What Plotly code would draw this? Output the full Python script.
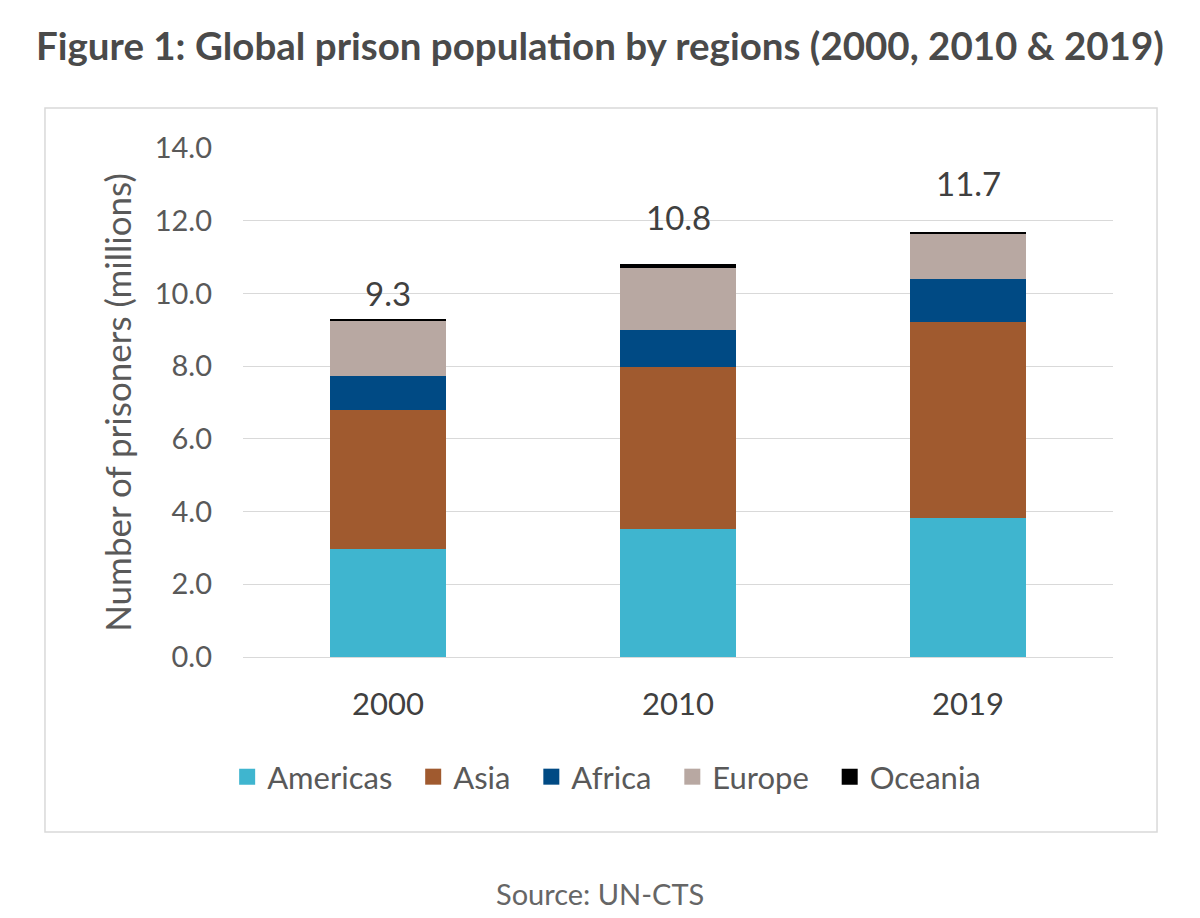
import plotly.graph_objects as go

years = ["2000", "2010", "2019"]
americas = [2.97, 3.52, 3.82]
asia = [3.82, 4.46, 5.39]
africa = [0.94, 1.01, 1.19]
europe = [1.50, 1.71, 1.23]
oceania = [0.07, 0.10, 0.07]
totals = [9.3, 10.8, 11.7]

series = [
    ("Americas", americas, "#3fb5cf"),
    ("Asia", asia, "#a05a2f"),
    ("Africa", africa, "#004a84"),
    ("Europe", europe, "#b8a8a2"),
    ("Oceania", oceania, "#000000"),
]

# pixel lift of each total label above its bar (style, not data)
label_lift = [4, 25, 27]

font_family = "Lato, Open Sans, sans-serif"
gray = "#595959"
pad = "\u00a0\u00a0"

fig = go.Figure()
for name, vals, col in series:
    fig.add_trace(go.Bar(
        x=years, y=vals, name=name, showlegend=False,
        marker=dict(color=col, line=dict(width=0)),
    ))
# legend swatches (larger squares)
for idx, (name, vals, col) in enumerate(series):
    fig.add_trace(go.Scatter(
        x=[None], y=[None], mode="markers",
        name=name + (pad if idx < len(series) - 1 else ""),
        marker=dict(symbol="square", size=20, color=col),
    ))

for i, t in enumerate(totals):
    fig.add_annotation(x=i, y=t, text=f"{t:.1f}", showarrow=False,
                       yanchor="bottom", yshift=label_lift[i],
                       font=dict(size=33, color="#404040", family=font_family))

# title
fig.add_annotation(xref="paper", yref="paper", x=0.4103, y=1.2024,
                   text="<b>Figure 1: Global prison population by regions (2000, 2010 &amp; 2019)</b>",
                   showarrow=False, xanchor="center", yanchor="middle",
                   font=dict(size=38.5, color="#4a4a4a", family=font_family))
# source
fig.add_annotation(xref="paper", yref="paper", x=0.4103, y=-0.4637,
                   text="Source: UN-CTS", showarrow=False,
                   xanchor="center", yanchor="middle",
                   font=dict(size=29, color="#666666", family=font_family))

# border box
fig.add_shape(type="rect", xref="paper", yref="paper",
              x0=-0.2276, x1=1.0506, y0=-0.3438, y1=1.0786,
              line=dict(color="#d9d9d9", width=1.5), fillcolor="rgba(0,0,0,0)",
              layer="below")

fig.update_layout(
    barmode="stack",
    bargap=0.6,
    width=1200, height=918,
    margin=dict(l=243, r=87, t=148, b=261, autoexpand=False),
    paper_bgcolor="white", plot_bgcolor="white",
    font=dict(family=font_family, color=gray),
    showlegend=True,
    legend=dict(orientation="h", x=0.418, xanchor="center", y=-0.2358, yanchor="middle",
                font=dict(size=31, color=gray, family=font_family),
                traceorder="normal", itemsizing="trace"),
    yaxis=dict(range=[0, 14], dtick=2, tickformat=".1f",
               showgrid=True, gridcolor="#d9d9d9", gridwidth=1.2,
               zeroline=False, showline=False, ticks="",
               tickfont=dict(size=29, color=gray), ticklabelstandoff=30,
               title=dict(text="Number of prisoners (millions)", standoff=12,
                          font=dict(size=35, color=gray))),
    xaxis=dict(type="category", range=[-0.5, 2.5], showgrid=False, showline=True,
               linecolor="#d9d9d9", linewidth=1.2,
               ticks="", tickfont=dict(size=31, color="#404040"), ticklabelstandoff=20),
)

fig.write_html("out.html")
